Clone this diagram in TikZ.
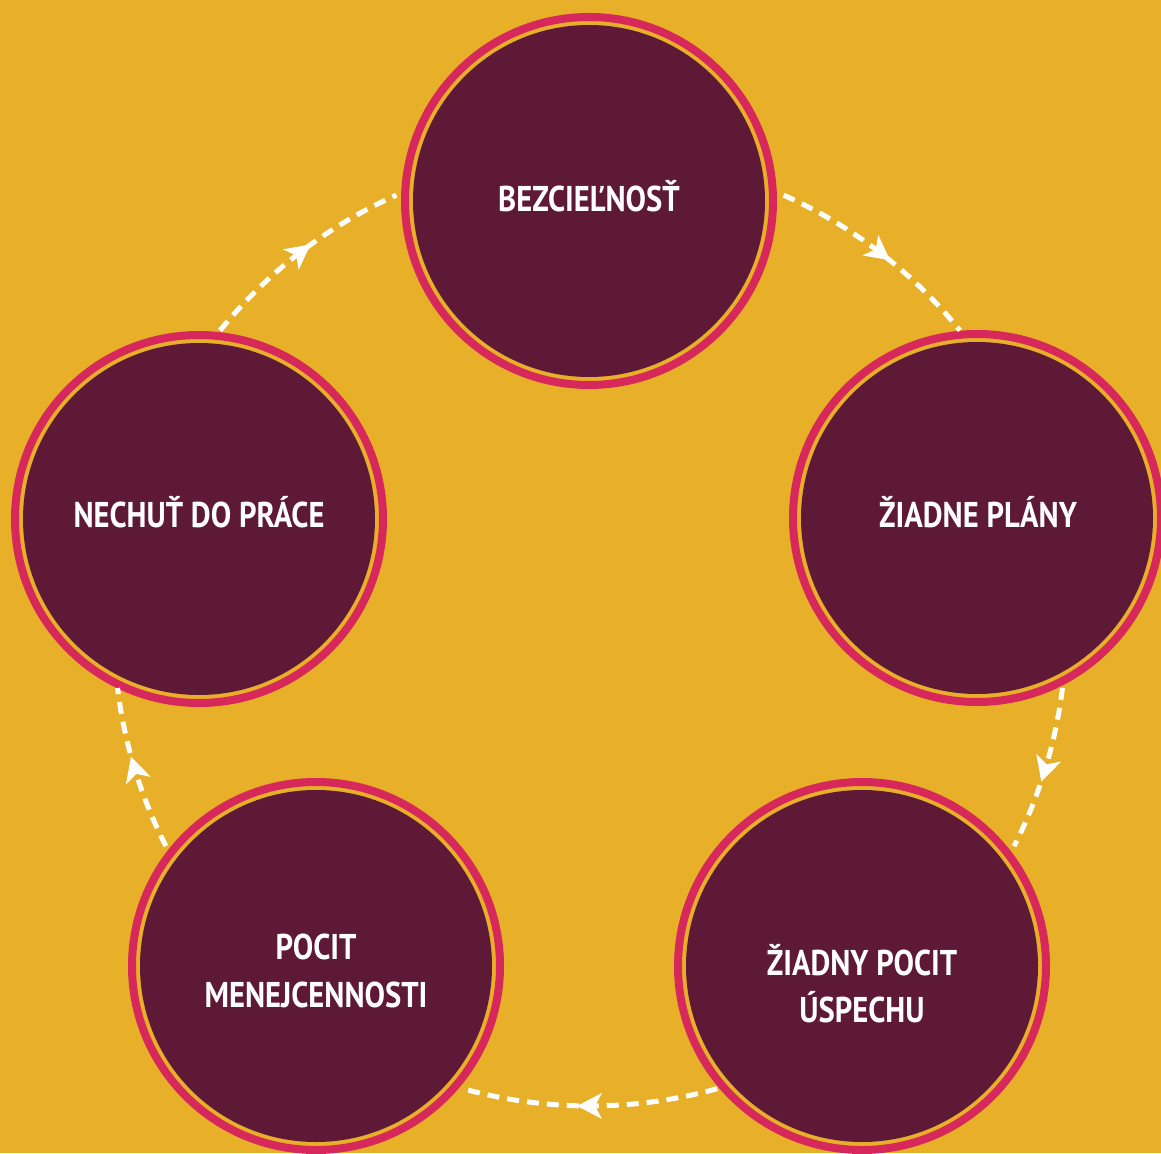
\documentclass[tikz,border=0pt]{standalone}
\usepackage{fontspec}
\newfontfamily\lblfont{PT Sans}[FakeStretch=0.855]
\usetikzlibrary{decorations.markings,calc}
\definecolor{gold}{HTML}{E8AF28}
\definecolor{wine}{HTML}{5E1936}
\definecolor{rose}{HTML}{D6285A}
\begin{document}
\begin{tikzpicture}[x=0.5pt,y=0.5pt,
  stage/.style={circle, draw=rose, line width=4pt, fill=gold, minimum size=184pt, inner sep=0pt,
    path picture={\fill[wine] (path picture bounding box.center) circle[radius=88pt];}},
  caption/.style={text=white, font=\lblfont\bfseries\fontsize{17.9pt}{20pt}\selectfont,
    text height=12.5pt, text depth=0pt, inner sep=0pt},
  flow/.style={draw=white, line width=2.5pt, dash pattern=on 6pt off 4pt,
    postaction={decorate},
    decoration={markings, mark=at position 0.5 with {
      \fill[white] (6.5pt,0pt) -- (-6pt,6.5pt) -- (-2.5pt,0pt) -- (-6pt,-6.5pt) -- cycle;}}},
]
% page and background
\fill[gold] (0,0) rectangle (1161,1153);
\useasboundingbox (0,0) rectangle (1161,1153);

% the five stages of the cycle
\node[stage] (T)  at (589,952) {};
\node[stage] (R)  at (977,635) {};
\node[stage] (BR) at (862,187) {};
\node[stage] (BL) at (316,187) {};
\node[stage] (L)  at (199,634) {};

% captions
\node[caption] (tT)   at ($(T)+(0,1.5)$)    {BEZCIEĽNOSŤ};
\node[caption] (tR)   at ($(R)+(1,3.5)$)    {ŽIADNE PLÁNY};
\node[caption] (tBR1) at ($(BR)+(0,3.5)$)   {ŽIADNY POCIT};
\node[caption] (tBR2) at ($(BR)+(0,-43.5)$) {ÚSPECHU};
\node[caption] (tBL1) at ($(BL)+(0,19.5)$)  {POCIT};
\node[caption] (tBL2) at ($(BL)+(0,-29)$)   {MENEJCENNOSTI};
\node[caption] (tL)   at ($(L)+(0,4.5)$)    {NECHUŤ DO PRÁCE};

% dashed connectors along a common ring
\coordinate (ctr) at (590,523);
\coordinate (a1) at ($(ctr)+(66:476)$);
\coordinate (a2) at ($(ctr)+(-7:476)$);
\coordinate (a3) at ($(ctr)+(-74.5:476)$);
\coordinate (a4) at ($(ctr)+(207:476)$);
\coordinate (a5) at ($(ctr)+(141:476)$);
\draw[flow] (a1) arc[start angle=66,   end angle=39,     radius=476];
\draw[flow] (a2) arc[start angle=-7,   end angle=-27,    radius=476];
\draw[flow] (a3) arc[start angle=-74.5,end angle=-105.5, radius=476];
\draw[flow] (a4) arc[start angle=207,  end angle=187,    radius=476];
\draw[flow] (a5) arc[start angle=141,  end angle=114,    radius=476];
\end{tikzpicture}
\end{document}
